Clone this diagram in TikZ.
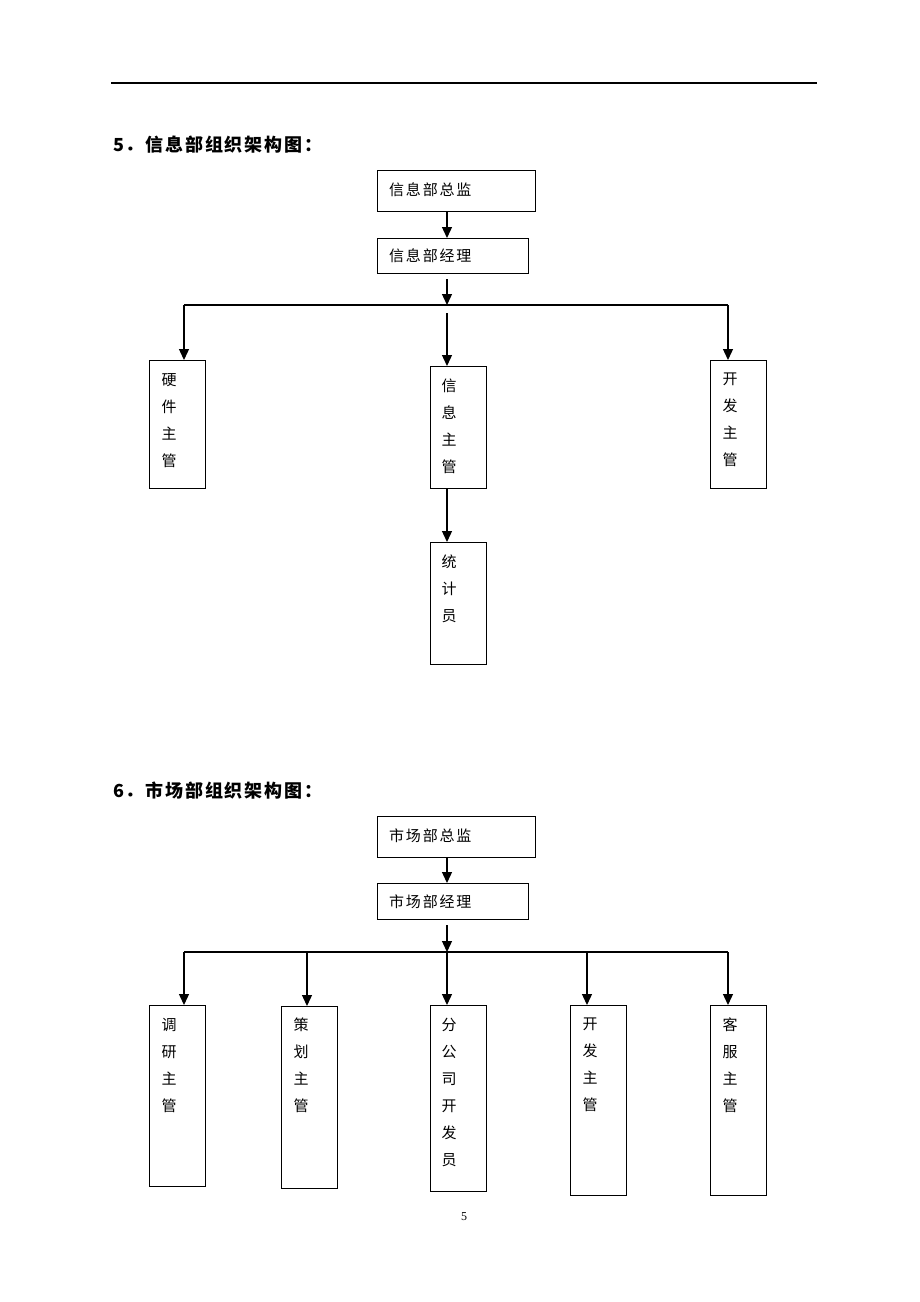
\documentclass[tikz,border=0pt]{standalone}
\usepackage{fontspec}
\setmainfont{Liberation Serif}
\newfontfamily\cjk[LetterSpace=12]{Noto Sans CJK SC}
\newfontfamily\cjkv{Noto Sans CJK SC}
\newfontfamily\cjkh[LetterSpace=10]{Noto Sans CJK SC}
\usetikzlibrary{arrows.meta,calc}
\tikzset{
  box/.style={draw, line width=1.3pt, rectangle, inner sep=0pt, anchor=north west},
  htext/.style={font=\cjk\fontsize{15}{17}\selectfont, inner sep=0pt, anchor=west},
  vtext/.style={font=\cjkv\fontsize{15}{27}\selectfont, inner sep=0pt, align=center, anchor=north},
  head/.style={font=\cjkh\bfseries\fontsize{18}{21}\selectfont, inner sep=0pt, anchor=west},
  link/.style={line width=1.3pt},
  arr/.style={line width=1.3pt, -{Triangle[length=11pt,width=10pt]}}
}
\begin{document}
\begin{tikzpicture}[x=1pt,y=-1pt]
\useasboundingbox (0,0) rectangle (920,1302);
\draw[line width=1.4pt] (111,83) -- (817,83);

% ---------- section 5 ----------
\node[head] (h5) at (113,145) {5．信息部组织架构图：};
\node[box, minimum width=158pt, minimum height=41pt] (z5) at (377,170) {};
\node[htext] (z5t) at (389,190) {信息部总监};
\node[box, minimum width=151pt, minimum height=35pt] (m5) at (377,238) {};
\node[htext] (m5t) at (389,256) {信息部经理};
\node[box, minimum width=56pt, minimum height=128pt] (y5) at (149,360) {};
\node[vtext] (y5t) at (169,373) {硬\\件\\主\\管};
\node[box, minimum width=56pt, minimum height=122pt] (x5) at (430,366) {};
\node[vtext] (x5t) at (449,379) {信\\息\\主\\管};
\node[box, minimum width=56pt, minimum height=128pt] (k5) at (710,360) {};
\node[vtext] (k5t) at (730,373) {开\\发\\主\\管};
\node[box, minimum width=56pt, minimum height=122pt] (t5) at (430,542) {};
\node[vtext] (t5t) at (449,555) {统\\计\\员};

\coordinate (s5) at (447,0);
\coordinate (bar5) at (447,305);
\coordinate (y5a) at ($(y5.north west)+(35,0)$);
\coordinate (k5a) at ($(k5.north west)+(18,0)$);
\draw[arr] (z5.south -| s5) -- (m5.north -| s5);
\draw[arr] ($(m5.south -| s5)+(0,5)$) -- (bar5);
\draw[link] (y5a |- bar5) -- (k5a |- bar5);
\draw[arr] (y5a |- bar5) -- (y5a);
\draw[arr] (k5a |- bar5) -- (k5a);
\draw[arr] ($(bar5)+(0,8)$) -- (x5.north -| s5);
\draw[arr] (x5.south -| s5) -- (t5.north -| s5);

% ---------- section 6 ----------
\node[head] (h6) at (113,791) {6．市场部组织架构图：};
\node[box, minimum width=158pt, minimum height=41pt] (z6) at (377,816) {};
\node[htext] (z6t) at (389,836) {市场部总监};
\node[box, minimum width=151pt, minimum height=36pt] (m6) at (377,883) {};
\node[htext] (m6t) at (389,902) {市场部经理};
\node[box, minimum width=56pt, minimum height=181pt] (d6) at (149,1005) {};
\node[vtext] (d6t) at (169,1018) {调\\研\\主\\管};
\node[box, minimum width=56pt, minimum height=182pt] (c6) at (281,1006) {};
\node[vtext] (c6t) at (301,1018) {策\\划\\主\\管};
\node[box, minimum width=56pt, minimum height=186pt] (f6) at (430,1005) {};
\node[vtext] (f6t) at (449,1018) {分\\公\\司\\开\\发\\员};
\node[box, minimum width=56pt, minimum height=190pt] (k6) at (570,1005) {};
\node[vtext] (k6t) at (590,1018) {开\\发\\主\\管};
\node[box, minimum width=56pt, minimum height=190pt] (e6) at (710,1005) {};
\node[vtext] (e6t) at (730,1018) {客\\服\\主\\管};

\coordinate (s6) at (447,0);
\coordinate (bar6) at (447,952);
\coordinate (d6a) at ($(d6.north west)+(35,0)$);
\coordinate (c6a) at ($(c6.north west)+(26,0)$);
\coordinate (f6a) at ($(f6.north west)+(17,0)$);
\coordinate (k6a) at ($(k6.north west)+(17,0)$);
\coordinate (e6a) at ($(e6.north west)+(18,0)$);
\draw[arr] (z6.south -| s6) -- (m6.north -| s6);
\draw[arr] ($(m6.south -| s6)+(0,5)$) -- (bar6);
\draw[link] (d6a |- bar6) -- (e6a |- bar6);
\draw[arr] (d6a |- bar6) -- (d6a);
\draw[arr] (c6a |- bar6) -- (c6a);
\draw[arr] (f6a |- bar6) -- (f6a);
\draw[arr] (k6a |- bar6) -- (k6a);
\draw[arr] (e6a |- bar6) -- (e6a);

\node[font=\fontsize{12}{14}\selectfont, inner sep=0pt] (pg) at (464,1217) {5};
\end{tikzpicture}
\end{document}
